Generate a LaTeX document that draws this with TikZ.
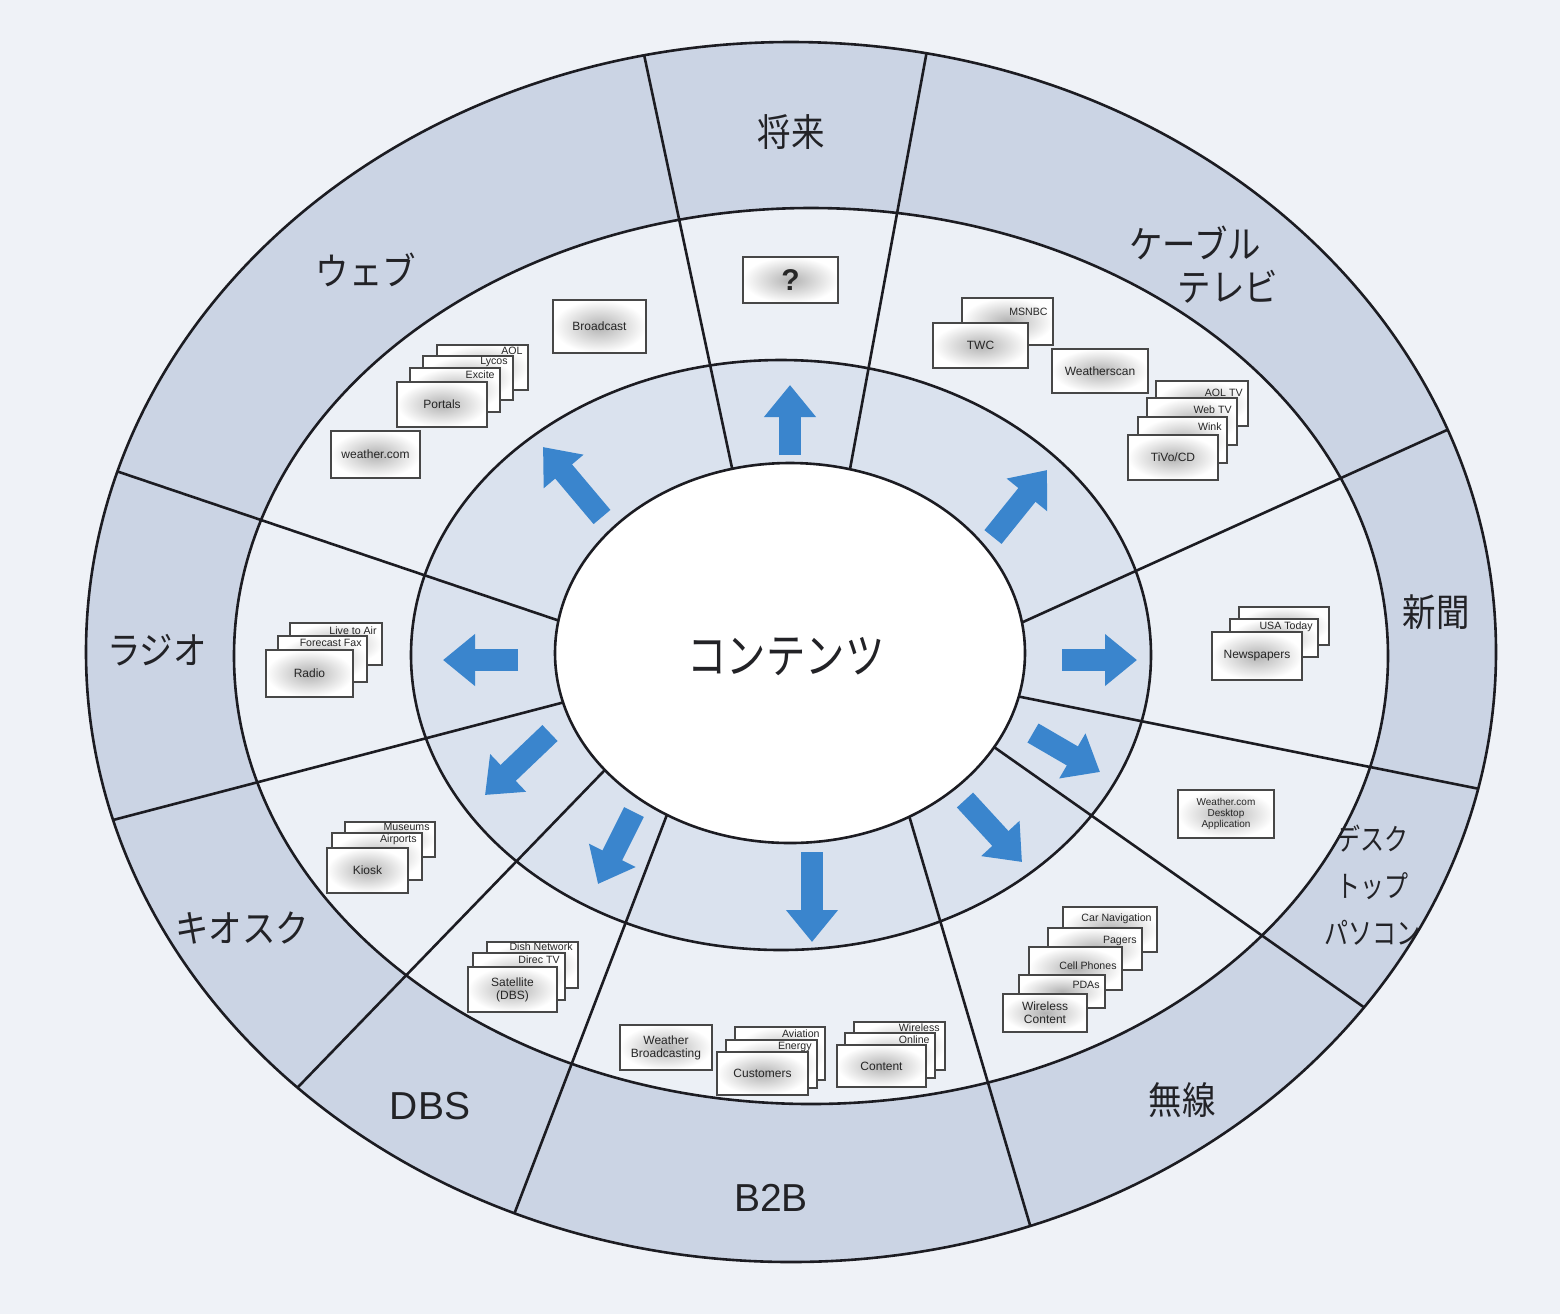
\documentclass[tikz,border=0pt]{standalone}
\usepackage{fontspec}
\usepackage{graphicx}
\newfontfamily\jpfont{Noto Sans CJK JP}
\newfontfamily\cardfont{Liberation Sans}
\usetikzlibrary{calc,arrows.meta}
\definecolor{bgcol}{RGB}{239,242,247}
\definecolor{bandcol}{RGB}{203,212,228}
\definecolor{midcol}{RGB}{236,240,246}
\definecolor{ringcol}{RGB}{218,226,238}
\definecolor{arrowblue}{RGB}{58,133,205}
\definecolor{linecol}{RGB}{28,28,34}
\definecolor{txtcol}{RGB}{34,34,38}

\tikzset{
  ellipseline/.style={draw=linecol, line width=1.3pt},
  divider/.style={draw=linecol, line width=1.3pt},
  cardbox/.style={draw=black!72, line width=0.55pt, inner color=black!30, outer color=white,
    inner sep=0pt, font=\cardfont\fontsize{6}{6.6}\selectfont, align=center, text=black!85},
  backtext/.style={inner sep=0pt, font=\cardfont\fontsize{5.3}{6}\selectfont, text=black!85},
  biglabel/.style={font=\jpfont\fontsize{19}{23}\selectfont, text=txtcol, inner sep=0pt, align=center},
  smalllabel/.style={font=\jpfont\fontsize{15}{23.5}\selectfont, text=txtcol, inner sep=0pt, align=center},
  latinlabel/.style={font=\cardfont\fontsize{19.5}{22}\selectfont, text=txtcol, inner sep=0pt},
  centerlabel/.style={font=\jpfont\fontsize{24}{26}\selectfont, text=txtcol, inner sep=0pt},
  blockarrow/.style={draw=arrowblue, line width=11pt, -{Triangle[width=25pt,length=16pt]}},
}

% card with centered text: name, x1, y1, x2, y2, text
\newcommand\card[6]{%
  \node[cardbox, minimum width={(#4-#2)*0.5pt}, minimum height={(#5-#3)*0.5pt}]
    (#1) at ({(#2+#4)/2},{(#3+#5)/2}) {#6};}
% card in a stack, text in its visible top strip: name, x1, y1, x2, y2, y offset, text
\newcommand\backcard[7]{%
  \node[cardbox, minimum width={(#4-#2)*0.5pt}, minimum height={(#5-#3)*0.5pt}]
    (#1) at ({(#2+#4)/2},{(#3+#5)/2}) {};
  \node[backtext, anchor=east] (#1-t) at ({#4-5},{#3+#6}) {#7};}

\begin{document}
\begin{tikzpicture}[x=0.5pt,y=-0.5pt]
\useasboundingbox (0,0) rectangle (1560,1314);
\fill[bgcol] (0,0) rectangle (1560,1314);

% bands
\fill[bandcol] (791,652) ellipse [x radius=705, y radius=610];
\fill[midcol] (811,656) ellipse [x radius=577, y radius=448];
\fill[ringcol] (781,655) ellipse [x radius=370, y radius=295];

% dividers
\coordinate (d1a) at (735,482);  \coordinate (d1b) at (642,45);
\coordinate (d2a) at (848,480);  \coordinate (d2b) at (928,45);
\coordinate (d3a) at (1023,622); \coordinate (d3b) at (1341,478);
\coordinate (d4a) at (1021,697); \coordinate (d4b) at (1375,768);
\coordinate (d5a) at (994,747);  \coordinate (d5b) at (1365,1008);
\coordinate (d6a) at (908,812);  \coordinate (d6b) at (1030,1225);
\coordinate (d7a) at (668,812);  \coordinate (d7b) at (510,1225);
\coordinate (d8a) at (600,775);  \coordinate (d8b) at (300,1085);
\coordinate (d9a) at (561,703);  \coordinate (d9b) at (113,820);
\coordinate (d10a) at (557,620); \coordinate (d10b) at (122,473);
\begin{scope}
  \clip (791,652) ellipse [x radius=705, y radius=610];
  \foreach \i in {1,...,10}{
    \draw[divider] ($(d\i a)!-0.3!(d\i b)$) -- ($(d\i a)!2.5!(d\i b)$);
  }
\end{scope}

% ellipse outlines
\draw[ellipseline] (791,652) ellipse [x radius=705, y radius=610];
\draw[ellipseline] (811,656) ellipse [x radius=577, y radius=448];
\draw[ellipseline] (781,655) ellipse [x radius=370, y radius=295];
\draw[ellipseline, fill=white] (790,653) ellipse [x radius=235, y radius=190];

% centre
\node[centerlabel] (content) at (786,657) {\scalebox{0.82}[1]{コンテンツ}};

% outer labels
\node[biglabel] (l-future) at (791,132) {\scalebox{0.88}[1]{将来}};
\node[biglabel] (l-web) at (366,270) {\scalebox{0.88}[1]{ウェブ}};
\node[biglabel] (l-cable1) at (1195,243) {\scalebox{0.88}[1]{ケーブル}};
\node[biglabel] (l-cable2) at (1228,287) {\scalebox{0.88}[1]{テレビ}};
\node[biglabel] (l-news) at (1436,612) {\scalebox{0.88}[1]{新聞}};
\node[smalllabel] (l-desk) at (1372,885) {\scalebox{0.8}[1]{デスク}\\\scalebox{0.8}[1]{トップ}\\\scalebox{0.8}[1]{パソコン}};
\node[biglabel] (l-wireless) at (1182,1100) {\scalebox{0.88}[1]{無線}};
\node[latinlabel] (l-b2b) at (771,1198) {B2B};
\node[latinlabel] (l-dbs) at (430,1106) {DBS};
\node[biglabel] (l-kiosk) at (242,928) {\scalebox{0.88}[1]{キオスク}};
\node[biglabel] (l-radio) at (157,650) {\scalebox{0.88}[1]{ラジオ}};

% arrows
\coordinate (a1s) at (790,455);  \coordinate (a1e) at (790,385);
\coordinate (a2s) at (993,537);  \coordinate (a2e) at (1047,470);
\coordinate (a3s) at (1062,660); \coordinate (a3e) at (1137,660);
\coordinate (a4s) at (1033,733); \coordinate (a4e) at (1100,772);
\coordinate (a5s) at (965,800);  \coordinate (a5e) at (1022,862);
\coordinate (a6s) at (812,852);  \coordinate (a6e) at (812,942);
\coordinate (a7s) at (634,812);  \coordinate (a7e) at (598,884);
\coordinate (a8s) at (550,733);  \coordinate (a8e) at (485,795);
\coordinate (a9s) at (518,660);  \coordinate (a9e) at (443,660);
\coordinate (a10s) at (602,517); \coordinate (a10e) at (543,447);
\foreach \i in {1,...,10}{\draw[blockarrow] (a\i s) -- (a\i e);}

% Future
\card{f-q}{743}{257}{838}{303}{\fontsize{15}{15}\selectfont\bfseries ?}

% Web
\card{w-broadcast}{553}{300}{646}{353}{Broadcast}
\backcard{w-aol}{437}{345}{528}{390}{6}{AOL}
\backcard{w-lycos}{423}{356}{513}{400}{6}{Lycos}
\backcard{w-excite}{410}{368}{500}{412}{7}{Excite}
\card{w-portals}{397}{382}{487}{427}{Portals}
\card{w-weather}{331}{431}{420}{478}{weather.com}

% Cable TV
\backcard{c-msnbc}{962}{298}{1053}{345}{14}{MSNBC}
\card{c-twc}{933}{323}{1028}{368}{TWC}
\card{c-wscan}{1052}{349}{1148}{393}{Weatherscan}
\backcard{c-aoltv}{1156}{381}{1248}{426}{12}{AOL TV}
\backcard{c-webtv}{1147}{398}{1237}{445}{12}{Web TV}
\backcard{c-wink}{1138}{417}{1227}{463}{10}{Wink}
\card{c-tivo}{1128}{435}{1218}{480}{TiVo/CD}

% Newspapers
\backcard{n-blank}{1239}{607}{1329}{645}{6}{}
\backcard{n-usa}{1230}{619}{1318}{657}{8}{USA Today}
\card{n-news}{1212}{632}{1302}{680}{Newspapers}

% Desktop
\node[cardbox, minimum width=48pt, minimum height=24pt, font=\cardfont\fontsize{5}{5.6}\selectfont]
  (d-app) at (1226,814) {Weather.com\\Desktop\\Application};

% Wireless
\backcard{wl-car}{1063}{907}{1157}{952}{12}{Car Navigation}
\backcard{wl-pagers}{1048}{928}{1142}{970}{13}{Pagers}
\backcard{wl-cell}{1029}{947}{1122}{990}{19}{Cell Phones}
\backcard{wl-pda}{1019}{975}{1105}{1008}{10}{PDAs}
\card{wl-content}{1003}{994}{1087}{1032}{Wireless\\Content}

% B2B
\card{b-wb}{620}{1025}{712}{1070}{Weather\\Broadcasting}
\backcard{b-av}{735}{1027}{825}{1080}{7}{Aviation}
\backcard{b-en}{726}{1040}{817}{1088}{7}{Energy}
\card{b-cu}{717}{1052}{808}{1095}{Customers}
\backcard{b-wi}{854}{1022}{945}{1070}{6}{Wireless}
\backcard{b-on}{845}{1033}{935}{1078}{7}{Online}
\card{b-co}{837}{1045}{926}{1087}{Content}

% DBS
\backcard{s-dish}{487}{942}{578}{988}{5}{Dish Network}
\backcard{s-direc}{473}{953}{565}{1000}{7}{Direc TV}
\card{s-sat}{468}{967}{557}{1012}{Satellite\\(DBS)}

% Kiosk
\backcard{k-mus}{345}{822}{435}{857}{5}{Museums}
\backcard{k-air}{332}{833}{422}{880}{7}{Airports}
\card{k-kiosk}{327}{848}{408}{893}{Kiosk}

% Radio
\backcard{r-live}{290}{623}{382}{665}{8}{Live to Air}
\backcard{r-fax}{278}{636}{367}{682}{7}{Forecast Fax}
\card{r-radio}{266}{650}{353}{697}{Radio}
\end{tikzpicture}
\end{document}
